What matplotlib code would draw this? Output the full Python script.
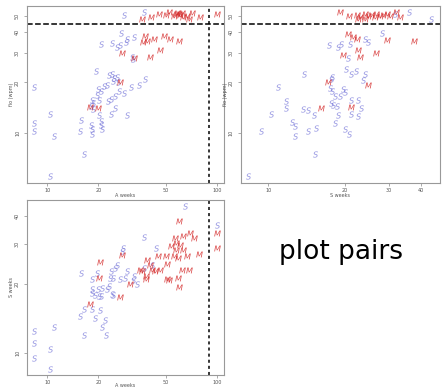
import matplotlib
matplotlib.use("Agg")
import matplotlib.pyplot as plt

# panel 1: A weeks vs fio (wpm)
a1_s = [28.2, 37.0, 27.2, 20.8, 24.1, 25.8, 26.7, 29.5, 29.2, 32.3, 31.6, 32.0, 37.8, 34.6,
        31.2, 28.2, 26.4, 25.2, 23.8, 22.7, 22.5, 21.5, 20.6, 20.0, 19.7, 20.1, 19.5, 23.0,
        24.1, 24.7, 24.5, 25.8, 26.0, 18.4, 18.6, 18.1, 18.5, 20.3, 23.8, 25.2, 29.5, 15.9,
        15.6, 18.0, 18.4, 18.3, 20.6, 20.8, 21.1, 8.35, 10.4, 8.35, 8.35, 11.0, 16.4, 10.4]
f1_s = [50.6, 52.5, 39.8, 33.9, 34.3, 32.4, 33.5, 36.3, 34.7, 37.2, 28.6, 27.5, 20.9, 19.3,
        18.9, 17.4, 17.8, 16.6, 16.0, 15.5, 19.3, 19.1, 17.8, 18.4, 16.9, 15.8, 23.4, 22.1,
        22.4, 21.4, 20.4, 21.7, 20.0, 15.8, 15.0, 14.5, 13.8, 12.7, 12.9, 14.1, 12.7, 12.0,
        10.2, 11.2, 10.5, 9.9, 11.7, 11.1, 10.6, 18.9, 12.9, 11.4, 10.2, 9.55, 7.5, 5.5]
a1_m = [36.1, 40.9, 45.4, 50.3, 52.0, 55.6, 58.2, 59.5, 60.9, 63.3, 66.6, 71.0, 68.1, 79.8,
        100, 57.0, 62.0, 37.8, 38.7, 42.4, 36.7, 48.5, 53.1, 59.5, 46.4, 27.6, 32.3, 40.5,
        27.0, 17.8, 20.0]
f1_m = [47.9, 49.0, 51.3, 50.6, 52.5, 50.1, 51.8, 51.3, 50.6, 49.0, 50.1, 51.8, 48.2, 49.0,
        51.3, 51.3, 51.8, 38.0, 35.5, 36.6, 35.0, 38.0, 36.3, 35.5, 31.4, 30.0, 28.2, 28.6,
        20.0, 14.3, 14.1]

# panel 2: S weeks vs fio (wpm)
s2_s = [35.9, 43.8, 31.6, 28.0, 17.3, 18.8, 19.4, 21.0, 24.0, 24.8, 20.7, 20.2, 21.3, 22.2,
        24.0, 23.7, 17.9, 17.7, 17.5, 17.8, 18.3, 19.2, 19.8, 20.1, 17.7, 18.0, 18.6, 21.3,
        22.6, 23.2, 21.2, 22.5, 18.8, 18.3, 20.1, 20.8, 15.2, 15.4, 14.4, 13.7, 14.3, 13.9,
        11.8, 11.8, 10.3, 10.9, 12.4, 12.8, 12.8, 9.4, 15.3, 8.34]
f2_s = [52.5, 47.9, 51.3, 39.8, 33.5, 32.4, 34.0, 33.9, 36.3, 35.0, 28.2, 24.0, 22.4, 23.4,
        22.4, 20.7, 21.7, 20.9, 18.6, 17.8, 16.6, 16.6, 18.4, 17.5, 15.0, 14.6, 14.5, 15.8,
        15.8, 14.1, 12.9, 12.6, 12.7, 11.4, 10.5, 9.9, 12.7, 10.7, 10.2, 13.8, 13.7, 22.4,
        15.5, 14.0, 12.9, 18.9, 11.6, 11.0, 9.55, 10.2, 7.5, 5.5]
s2_m = [19.2, 20.9, 22.3, 23.0, 24.0, 24.8, 25.5, 26.3, 26.7, 27.6, 28.4, 29.3, 30.2, 32.0,
        33.0, 22.6, 24.0, 20.7, 21.6, 22.3, 22.6, 23.0, 19.8, 26.7, 29.3, 37.6, 24.8, 17.2,
        16.2, 21.2]
f2_m = [52.5, 50.1, 50.6, 49.0, 51.3, 49.8, 50.6, 49.0, 51.3, 50.1, 50.6, 51.3, 49.8, 52.5,
        49.0, 47.9, 48.2, 38.9, 37.2, 36.6, 31.4, 28.6, 29.1, 30.2, 36.0, 35.5, 19.2, 20.0,
        14.1, 14.3]

# panel 3: A weeks vs S weeks
a3_s = [65.0, 100, 37.3, 43.7, 28.0, 27.6, 25.2, 25.8, 23.6, 23.4, 23.0, 24.4, 26.8, 29.3,
        28.9, 32.3, 32.0, 33.8, 15.9, 18.4, 19.7, 18.4, 18.4, 19.2, 19.9, 20.6, 20.1, 21.1,
        22.5, 24.1, 24.5, 16.4, 18.4, 20.4, 15.5, 19.0, 21.8, 20.9, 22.3, 16.4, 11.0, 8.35,
        8.35, 10.4, 8.35, 10.4, 41.5, 37.0]
s3_s = [44.3, 36.6, 32.4, 28.9, 28.9, 27.9, 23.6, 24.4, 22.8, 21.3, 19.6, 21.3, 21.0, 22.8,
        21.3, 21.8, 20.8, 20.0, 22.4, 21.0, 22.4, 19.0, 18.3, 18.0, 19.0, 17.7, 17.7, 19.3,
        19.0, 18.2, 18.0, 15.5, 15.5, 15.4, 14.5, 14.2, 14.0, 13.0, 12.0, 12.0, 13.0, 12.5,
        11.0, 10.4, 9.5, 8.5, 24.4, 23.6]
a3_m = [59.5, 63.3, 68.9, 72.9, 56.9, 57.6, 60.9, 53.5, 57.6, 63.3, 50.0, 55.6, 59.0, 66.6,
        78.8, 100, 100, 44.7, 38.7, 50.8, 41.5, 35.4, 36.1, 42.9, 46.4, 38.4, 38.2, 30.9,
        50.8, 52.0, 59.0, 59.5, 62.3, 68.1, 20.4, 27.6, 27.0, 17.8, 20.1, 40.5]
s3_m = [37.8, 32.7, 33.6, 31.9, 31.9, 30.4, 29.9, 29.6, 28.4, 28.4, 26.7, 26.5, 26.1, 26.5,
        27.3, 33.6, 28.9, 26.7, 25.5, 24.6, 23.2, 23.2, 22.8, 22.8, 23.0, 21.8, 21.0, 20.0,
        21.0, 20.8, 21.3, 19.5, 23.2, 23.0, 25.0, 26.9, 17.6, 16.4, 21.3, 24.2]

a_ticks = [10, 20, 50, 100]
s_ticks = [10, 20, 30, 40]
f_ticks = [10, 20, 30, 40, 50]
a_cut = 90
f_cut = 45

c_s = '#6b6bd6'
c_m = '#d42a2a'
grey = '#888888'

fig = plt.figure(figsize=(4.42, 3.88), dpi=100)


def style(ax, xt, yt, xlab, ylab, xlim, ylim, xpad=0):
    ax.set_xscale('log')
    ax.set_yscale('log')
    ax.set_xlim(*xlim)
    ax.set_ylim(*ylim)
    ax.set_xticks(xt)
    ax.set_xticklabels([str(t) for t in xt])
    ax.set_yticks(yt)
    ax.set_yticklabels([str(t) for t in yt], rotation=90, va='center')
    ax.minorticks_off()
    ax.tick_params(length=2, width=0.5, color=grey, labelsize=3.5,
                   labelcolor='#555555', pad=1.5)
    ax.tick_params(axis='y', pad=3)
    for sp in ax.spines.values():
        sp.set_color('#999999')
        sp.set_linewidth(0.8)
    ax.set_xlabel(xlab, fontsize=3.5, color='#555555', labelpad=xpad)
    ax.set_ylabel(ylab, fontsize=3.5, color='#555555', labelpad=1)


def pts(ax, x_s, y_s, x_m, y_m):
    ax.scatter(x_s, y_s, marker='$S$', s=20, color=c_s, alpha=0.7, linewidths=0)
    ax.scatter(x_m, y_m, marker='$M$', s=22, color=c_m, alpha=0.85, linewidths=0)


ax1 = fig.add_axes([0.061, 0.528, 0.446, 0.457])
pts(ax1, a1_s, f1_s, a1_m, f1_m)
ax1.axhline(f_cut, color='black', ls='--', lw=1.1)
ax1.axvline(a_cut, color='black', ls=(0, (2, 2)), lw=1.1)
style(ax1, a_ticks, f_ticks, 'A weeks', 'fio (wpm)', (7.6, 110), (5.0, 57.5))

ax2 = fig.add_axes([0.545, 0.528, 0.45, 0.457])
pts(ax2, s2_s, f2_s, s2_m, f2_m)
ax2.axhline(f_cut, color='black', ls='--', lw=1.1)
style(ax2, s_ticks, f_ticks, 'S weeks', 'fio (wpm)', (7.8, 47.5), (5.0, 57.5))

ax3 = fig.add_axes([0.061, 0.034, 0.446, 0.451])
pts(ax3, a3_s, s3_s, a3_m, s3_m)
ax3.axvline(a_cut, color='black', ls=(0, (2, 2)), lw=1.1)
style(ax3, a_ticks, s_ticks, 'A weeks', 'S weeks', (7.6, 110), (8.0, 47), xpad=-1.5)

fig.text(0.772, 0.35, 'plot pairs', fontsize=19, ha='center', va='center')

fig.savefig('out.png', dpi=100)
